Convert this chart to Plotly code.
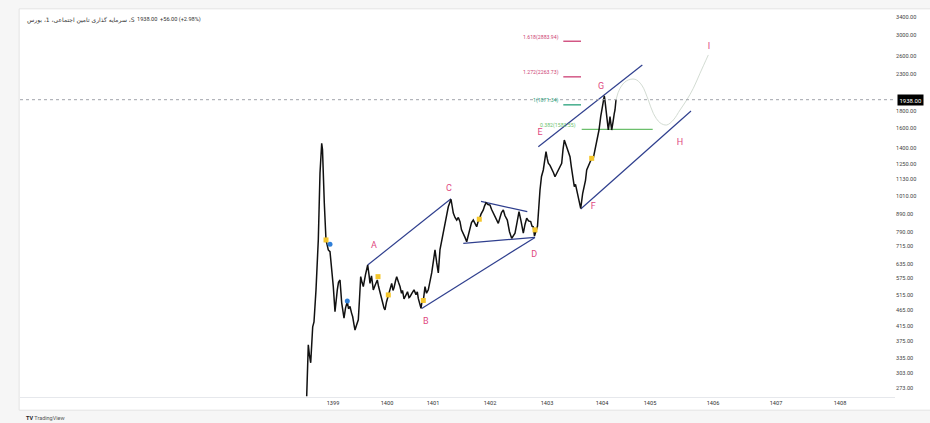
import math
import plotly.graph_objects as go

# ---------------- data (bar index on x, price on y) ----------------
price_x = [306.7, 308.3, 309.5, 310.7, 312.7, 314, 316, 318.3, 320, 321.7, 322.5, 323.3, 324.3, 326,
           328.3, 330, 331.7, 333.3, 335, 336.2, 337.3, 338.5, 340, 341.7, 343, 344, 345.5, 347.3, 348.5,
           350, 351.5, 352.7, 354, 355, 356.5, 358.3, 359.5, 360.7, 362, 363.3, 365.5, 367.7, 369, 370,
           371.5, 373.3, 375, 377.3, 378.5, 380, 381.5, 382.5, 384, 385, 386.5, 388.3, 390, 391.7, 393,
           394, 395.5, 396.7, 398.5, 400, 401.5, 402.5, 404, 405, 406.5, 407.5, 409, 410, 412, 414, 416,
           417.3, 418.3, 420, 421, 422.3, 423.3, 425, 426.5, 428.3, 430, 431.7, 433.5, 435, 436.7, 438.3,
           440, 441.7, 443.5, 445, 446.5, 448.3, 451, 452.2, 453.3, 455, 456.7, 458.3, 460, 461.5, 463.3,
           465, 466.7, 468.3, 470, 471.5, 473.3, 475, 476.7, 478, 479.3, 481, 483.3, 484.5, 486, 488, 490,
           491.5, 493.3, 495, 496.5, 498.3, 500, 501.5, 503.3, 505, 507.3, 509.5, 511.7, 513.3, 515, 517,
           519, 521, 523.3, 525, 526.7, 528.5, 530.7, 532, 533.3, 534.5, 536, 537.5, 540, 541.5, 543.3,
           544.8, 546, 547.2, 548.3, 550, 551.7, 553.5, 555, 556.5, 558.3, 560, 561.7, 563, 564.3, 565.5,
           566.7, 568.3, 570, 571.3, 572.7, 574.3, 575.5, 576.7, 578, 579.3, 580.7, 582.7, 584.3, 585.5,
           586.7, 588.3, 590, 591.7, 593, 594, 595.3, 596.7, 598, 599, 600.7, 602.7, 604.3, 605.2, 606,
           607.3, 608.3, 609.2, 610, 611.7, 612.5, 613.3, 614.2, 615, 616]
price_y = [258, 366, 340, 324, 414, 428, 532, 747, 1177, 1441, 1380, 1122, 960, 747,
           698, 690, 623, 544, 459, 505, 532, 560, 569, 487, 455, 439, 470, 491, 468,
           475, 455, 443, 420, 405, 418, 434, 500, 582, 560, 544, 590, 630, 590, 556,
           585, 532, 548, 569, 545, 520, 505, 490, 470, 464, 490, 514,
           540, 556, 530, 540, 565, 582, 560, 544, 520, 530, 500, 508, 520, 525, 505, 508, 520, 532, 515,
           525, 502, 485, 469, 500, 494, 544, 520, 532, 560, 597, 650, 698, 640, 597,
           700, 747, 790, 838, 880, 936, 985, 940, 897, 870, 855, 870, 846, 800, 783,
           760, 738, 770, 799, 840, 855, 830, 817, 845, 860, 890, 916, 940, 962, 950, 947,
           920, 895, 870, 850, 836, 870, 900, 916, 880, 855, 790, 755, 770, 782, 840,
           905, 850, 782, 830, 866, 850, 846, 820, 817, 767, 790, 821, 1049, 1150, 1202,
           1300, 1361, 1300, 1258, 1240, 1216, 1180, 1148, 1175, 1202, 1230, 1258, 1380, 1473, 1440,
           1408, 1370, 1315, 1230, 1148, 1073, 1090, 1049, 1000, 958, 926, 1026, 1073, 1120,
           1202, 1230, 1258, 1301, 1290, 1331, 1380, 1441, 1500, 1577, 1727, 1848, 1990, 1900, 1807,
           1651, 1577, 1650, 1727, 1577, 1620, 1688, 1760, 1807, 1938]

# channel / pattern lines (x, price)
ac_x, ac_y = [367.7, 451.0], [630, 988]
bd_x, bd_y = [421.7, 535.0], [469, 760]
tri_up_x, tri_up_y = [481.0, 527.3], [971, 905]
tri_lo_x, tri_lo_y = [463.3, 535.0], [730, 760]
eg_x, eg_y = [538.3, 642.3], [1408, 2453]
fh_x, fh_y = [580.7, 691.0], [922, 1795]

# projected path
proj_x = [616, 620, 626.7, 635, 641.7, 648.3, 653.3, 660, 666.7, 673.3, 680, 686.7, 693.3, 700, 708.3]
proj_y = [1938, 2094, 2205, 2227, 2141, 1934, 1767, 1657, 1632, 1688, 1807, 1934, 2094, 2319, 2627]

# fibonacci levels
fib_labels = ["1.618(2883.94)", "1.272(2263.73)", "1(1871.34)", "0.382(1583.55)"]
fib_values = [2883.94, 2263.73, 1871.34, 1583.55]
fib_x0 = [563.3, 563.3, 563.3, 581.7]
fib_x1 = [581.0, 581.0, 581.0, 652.7]
fib_label_x = [560.5, 560.5, 560.5, 577.5]
fib_colors = ["#cc3f74", "#cc3f74", "#26a07a", "#6cbf6c"]

# wave labels
wave_labels = ["A", "B", "C", "D", "E", "F", "G", "H", "I"]
wave_x = [374, 425.7, 449, 534.3, 540, 593.3, 601, 680, 709]
wave_y = [718, 428, 1056, 674, 1545, 936, 2117, 1447, 2773]

# event markers
yellow_x = [326, 378, 388.3, 423.3, 479.3, 535, 591.7]
yellow_y = [747, 582, 514, 495, 860, 800, 1301]
blue_x = [330, 347.3]
blue_y = [725, 493]

last_price = 1938.0

# axes
year_ticks = [333, 387, 433, 490, 547, 602, 650, 713, 776, 840]
year_labels = ["1399", "1400", "1401", "1402", "1403", "1404", "1405", "1406", "1407", "1408"]
price_ticks = [3400, 3000, 2600, 2300, 1800, 1600, 1400, 1250, 1130, 1010, 890, 790, 715,
               635, 575, 515, 465, 415, 375, 335, 303, 273]

title_fa = "سرمایه گذاری تامین اجتماعی، 1، بورس ،S"
title_num = "1938.00  +56.00 (+2.98%)"

# ---------------- figure ----------------
NAVY = "#2f3f8e"
PINK = "#e0487f"

fig = go.Figure()

fig.add_trace(go.Scatter(x=proj_x, y=proj_y, mode="lines", line=dict(color="#d3dcd3", width=1, shape="spline"),
                         hoverinfo="skip"))
for lx, ly in [(ac_x, ac_y), (bd_x, bd_y), (tri_up_x, tri_up_y), (tri_lo_x, tri_lo_y), (eg_x, eg_y), (fh_x, fh_y)]:
    fig.add_trace(go.Scatter(x=lx, y=ly, mode="lines", line=dict(color=NAVY, width=1.2), hoverinfo="skip"))

for v, x0, x1, c in zip(fib_values, fib_x0, fib_x1, fib_colors):
    fig.add_trace(go.Scatter(x=[x0, x1], y=[v, v], mode="lines", line=dict(color=c, width=1.3), hoverinfo="skip"))

fig.add_trace(go.Scatter(x=price_x, y=price_y, mode="lines", line=dict(color="#111111", width=1.5)))
fig.add_trace(go.Scatter(x=yellow_x, y=yellow_y, mode="markers",
                         marker=dict(color="#f5c62a", size=5, symbol="square")))
fig.add_trace(go.Scatter(x=blue_x, y=blue_y, mode="markers",
                         marker=dict(color="#2f7fd8", size=5)))

fig.add_trace(go.Scatter(x=wave_x, y=wave_y, mode="text", text=wave_labels,
                         textfont=dict(color=PINK, size=9, family="Roboto")))

# last price dotted line
fig.add_hline(y=last_price, line=dict(color="#a0a3aa", width=1, dash="dot"))

# panel background
fig.add_shape(type="rect", xref="paper", yref="paper", x0=-0.001, x1=1.05, y0=-0.034, y1=1.003,
              fillcolor="white", line=dict(color="#e3e3e3", width=1), layer="below")

annotations = []
for lab, v, lx, c in zip(fib_labels, fib_values, fib_label_x, fib_colors):
    annotations.append(dict(x=lx, y=math.log10(v), xref="x", yref="y", text=lab, showarrow=False,
                            xanchor="right", yanchor="middle", yshift=4,
                            font=dict(size=5.2, color=c, family="Roboto")))
annotations.append(dict(x=1.0, y=math.log10(last_price), xref="paper", yref="y", text="1938.00", showarrow=False,
                        xanchor="left", yanchor="middle", xshift=2, bgcolor="#000000",
                        font=dict(size=6, color="white", family="Roboto"), borderpad=1.5))
annotations.append(dict(x=0.006, y=1.0, xref="paper", yref="paper", yshift=-4, text=title_fa, showarrow=False,
                        xanchor="left", yanchor="top", font=dict(size=6, color="#333", family="DejaVu Sans")))
annotations.append(dict(x=0.131, y=1.0, xref="paper", yref="paper", yshift=-4, text=title_num, showarrow=False,
                        xanchor="left", yanchor="top", font=dict(size=5.6, color="#333", family="Roboto")))
annotations.append(dict(x=0.005, y=-0.054, xref="paper", yref="paper", yanchor="middle", xanchor="left",
                        text="<b>TV</b> <span style='color:#555'>TradingView</span>", showarrow=False,
                        font=dict(size=5.5, color="#222", family="Roboto")))

fig.update_layout(
    width=930, height=423, autosize=False,
    margin=dict(l=20, r=35, t=10, b=26),
    paper_bgcolor="#f6f6f6", plot_bgcolor="white",
    showlegend=False,
    annotations=annotations,
    xaxis=dict(range=[20, 895], tickvals=year_ticks, ticktext=year_labels, showgrid=False, zeroline=False,
               showline=True, linecolor="#e6e8ec", linewidth=1, ticks="",
               tickfont=dict(size=5.6, color="#333", family="Roboto")),
    yaxis=dict(type="log", range=[2.4096, 3.5522], side="right", tickvals=price_ticks,
               ticktext=[f"{v:.2f}" for v in price_ticks], showgrid=False, zeroline=False, ticks="",
               tickfont=dict(size=5.6, color="#444", family="Roboto"), showline=False),
)

fig.write_html("out.html")
